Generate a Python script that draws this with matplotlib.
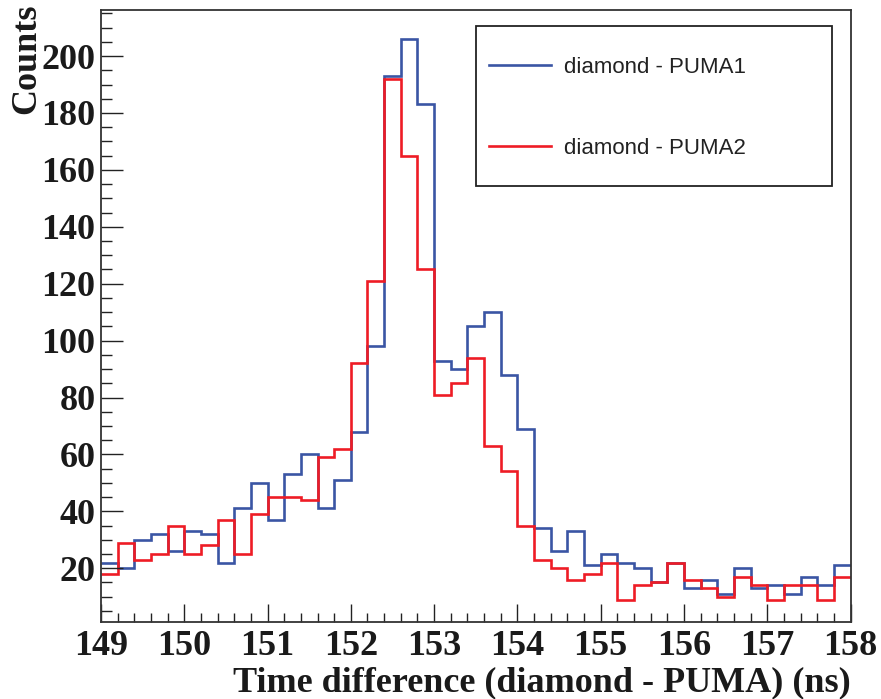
import numpy as np
import matplotlib
matplotlib.use("Agg")
import matplotlib.pyplot as plt
from matplotlib.ticker import MultipleLocator
from matplotlib.lines import Line2D
from matplotlib.patches import Rectangle

# Histogram binning
bin_start = 149.0
bin_width = 0.2
n_bins = 45

puma1_counts = [22, 20, 30, 32, 26, 33, 32, 22, 41, 50,
                37, 53, 60, 41, 51, 68, 98, 193, 206, 183,
                93, 90, 105, 110, 88, 69, 34, 26, 33, 21,
                25, 22, 20, 15, 22, 13, 16, 11, 20, 13,
                14, 11, 17, 14, 21]
puma2_counts = [18, 29, 23, 25, 35, 25, 28, 37, 25, 39,
                45, 45, 44, 59, 62, 92, 121, 192, 165, 125,
                81, 85, 94, 63, 54, 35, 23, 20, 16, 18,
                22, 9, 14, 15, 22, 16, 13, 10, 17, 14,
                9, 14, 14, 9, 17]
labels = ["diamond - PUMA1", "diamond - PUMA2"]
xlabel = "Time difference (diamond - PUMA) (ns)"
ylabel = "Counts"

edges = bin_start + bin_width * np.arange(n_bins + 1)

W, H = 881, 699
fig = plt.figure(figsize=(W / 100, H / 100), dpi=100)
ax = fig.add_axes([101 / W, 1 - 622 / H, (850.5 - 101) / W, (622 - 10) / H])

blue = "#3a55a4"
red = "#ee1c25"
ax.stairs(puma1_counts, edges, color=blue, lw=1.9, baseline=None, label=labels[0])
ax.stairs(puma2_counts, edges, color=red, lw=1.9, baseline=None, label=labels[1])

ax.set_xlim(149, 158)

ax.xaxis.set_major_locator(MultipleLocator(1))
ax.xaxis.set_minor_locator(MultipleLocator(0.2))
ax.yaxis.set_major_locator(MultipleLocator(20))
ax.yaxis.set_minor_locator(MultipleLocator(5))
ax.set_ylim(1.1, 216.2)

FS = 26
ax.tick_params(axis="both", which="both", direction="in", top=False, right=False, colors="#222222")
ax.tick_params(axis="x", which="major", length=13, width=1.0, pad=6)
ax.tick_params(axis="x", which="minor", length=6.5, width=1.0)
ax.tick_params(axis="y", which="major", length=16, width=1.0, pad=4)
ax.tick_params(axis="y", which="minor", length=8, width=1.0)
for lab in ax.get_xticklabels() + ax.get_yticklabels():
    lab.set_fontfamily("Liberation Serif")
    lab.set_fontweight("bold")
    lab.set_fontsize(FS)
    lab.set_color("#1a1a1a")

for s in ax.spines.values():
    s.set_linewidth(1.3)
    s.set_color("#333333")

fig.text(851 / W, 1 - 691 / H, xlabel, ha="right", va="baseline",
         fontfamily="Liberation Serif", fontweight="bold", fontsize=FS, color="#1a1a1a")
fig.text(27 / W, 1 - 4 / H, ylabel, ha="center", va="top", rotation=90,
         fontfamily="Liberation Serif", fontweight="bold", fontsize=FS, color="#1a1a1a")

# legend frame
fig.patches.append(Rectangle((476 / W, 1 - 186 / H), (832 - 476) / W, (186 - 26) / H,
                             transform=fig.transFigure, fill=True, facecolor="white",
                             edgecolor="#222222", lw=1.3, zorder=5))
handles = [Line2D([], [], color=blue, lw=1.9), Line2D([], [], color=red, lw=1.9)]
leg = fig.legend(handles, labels, loc="upper left",
                 bbox_to_anchor=(489 / W, 1 - 57 / H),
                 bbox_transform=fig.transFigure, borderaxespad=0, borderpad=0,
                 frameon=False,
                 prop={"family": "Liberation Sans", "size": 16},
                 handlelength=2.79, handletextpad=0.585, labelspacing=2.7)
leg.set_zorder(6)
for t in leg.get_texts():
    t.set_color("#222222")

fig.savefig("out.png", dpi=100)
